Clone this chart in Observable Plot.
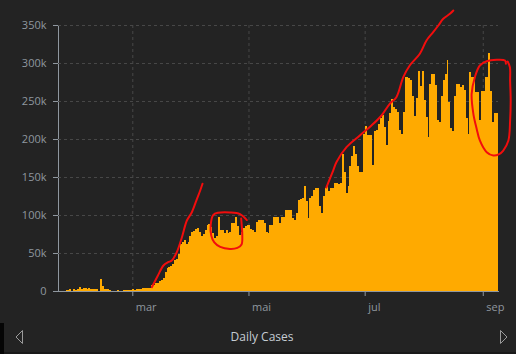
<!DOCTYPE html>
<html>
<head>
<meta charset="utf-8">
<script src="https://cdn.jsdelivr.net/npm/d3@7"></script>
<script src="https://cdn.jsdelivr.net/npm/@observablehq/plot@0.6"></script>
<style>
  html, body { margin: 0; padding: 0; background: #232323; width: 516px; height: 354px; overflow: hidden; }
  #wrap { position: relative; width: 516px; height: 354px; }
  #bar { position: absolute; left: 0; top: 323px; width: 516px; height: 29px; border-bottom: 2px solid #191919; }
  #bar .strip { position: absolute; left: 0; top: 0; width: 4px; height: 31px; background: #050505; }
  #bar .title { position: absolute; left: 0; width: 524px; top: 5px; text-align: center; font: 12px "Open Sans", sans-serif; color: #c5ccd3; }
  #bar svg { position: absolute; top: 0; }
</style>
</head>
<body>
<div id="wrap">
  <div id="chart"></div>
  <div id="bar">
    <div class="strip"></div>
    <div class="title">Daily Cases</div>
    <svg width="10" height="29" style="left:14px"><polygon points="2,14 8.5,7.5 8.5,20.5" fill="none" stroke="#9a9a9a" stroke-width="1"/></svg>
    <svg width="10" height="29" style="left:499px"><polygon points="8,14 1.5,7.5 1.5,20.5" fill="none" stroke="#9a9a9a" stroke-width="1"/></svg>
  </div>
</div>
<script>
// Day 0 = 2020-01-22; one value per day through 2020-09-08
const startDate = "2020-01-22";
const dailyCases = [
  555, 98, 288, 493, 684, 809, 2651, 589, 2068, 1693,
  2111, 4749, 3094, 4011, 3743, 3159, 3597, 2729, 3030, 2612,
  2040, 419, 15141, 6517, 2145, 2194, 2035, 1880, 503, 558,
  624, 1758, 401, 586, 861, 846, 1125, 1369, 1814, 2363,
  1783, 2473, 2205, 2785, 3970, 3878, 4069, 3855, 4573, 7300,
  8000, 10500, 11000, 13500, 15000, 17500, 25000, 30000, 31500, 32500,
  35000, 41000, 42000, 49000, 62000, 64000, 67000, 62000, 64000, 72000,
  77000, 79000, 82000, 83000, 78000, 72000, 75000, 80000, 87000, 88000,
  84000, 76000, 70000, 72000, 97000, 80000, 80000, 76000, 80000, 76000,
  78000, 89000, 89000, 98000, 86000, 74000, 78000, 83000, 85000, 87000,
  87000, 82000, 80000, 78000, 91000, 93000, 93000, 93000, 89000, 78000,
  76000, 87000, 87000, 97000, 97000, 97000, 89000, 98000, 98000, 106000,
  107000, 107000, 106000, 96000, 94000, 102000, 120000, 121000, 122000, 138000,
  118000, 96000, 123000, 125000, 133000, 136000, 136000, 112000, 103000, 125000,
  135000, 138000, 131000, 135000, 135000, 142000, 142000, 141000, 142000, 180000,
  157000, 129000, 138000, 164000, 178000, 191000, 180000, 164000, 157000, 157000,
  207000, 217000, 205000, 205000, 205000, 166000, 210000, 212000, 220000, 227000,
  232000, 216000, 192000, 224000, 234000, 252000, 242000, 239000, 235000, 212000,
  207000, 236000, 282000, 282000, 280000, 277000, 256000, 230000, 254000, 290000,
  270000, 290000, 251000, 229000, 203000, 273000, 286000, 285000, 271000, 225000,
  222000, 256000, 278000, 285000, 304000, 249000, 214000, 211000, 256000, 273000,
  273000, 269000, 271000, 265000, 227000, 207000, 288000, 282000, 282000, 262000,
  262000, 225000, 263000, 263000, 281000, 281000, 313000, 263000, 223000, 234000,
  234000
];
const yTicks = [0, 50000, 100000, 150000, 200000, 250000, 300000, 350000];
const monthTicks = ["2020-03-01", "2020-05-01", "2020-07-01", "2020-09-01"];
const monthLabels = ["mar", "mai", "jul", "sep"];
const domainEnd = "2020-09-09";

// red hand-drawn annotations: [day offset from start, value]
const noteMarch = [[49.0,5700],[52,20000],[55.1,34200],[57.5,38500],[59.5,40800],[62.1,51700],[64.8,71400],[67.4,93400],[70.0,104300],[72.7,122000],[74.4,132900],[75.6,141700]];
const noteApril = [[98.9,94000],[95.3,101900],[90.0,104100],[83.8,103600],[81.2,100600],[79.9,87500],[80.2,73700],[81.8,64500],[84.9,58600],[90.0,56000],[93.9,57300],[96.1,61900],[96.5,73700],[96.2,86900],[95.9,96100]];
const noteJuly = [[140.6,136800],[144.2,159200],[145.9,170100],[151.2,189900],[158.2,205300],[164.3,218400],[169.6,231600],[173.9,247000],[177.4,255700],[181.0,282000],[184.4,297400],[189.7,312800],[193.2,330300],[196.7,341200],[199.4,350000],[202.0,358800],[205.5,365400],[207.3,369700]];
const noteSept = [[234.9,299600],[234.4,304000],[230.0,304900],[224.8,303000],[221.2,297400],[218.6,282000],[216.9,260100],[217.8,233800],[219.5,214500],[221.2,198700],[224.8,183300],[228.3,178900],[231.1,180300],[233.5,185500],[236.2,198700],[237.1,225000],[237.4,251300],[237.1,277600],[237.0,295100],[235.8,302600]];

const t0 = new Date(startDate + "T00:00:00Z");
const dayMs = 86400000;
const dayAt = (d) => new Date(t0.getTime() + d * dayMs);
const rows = dailyCases.map((v, i) => ({x1: dayAt(i), x2: dayAt(i + 1), v}));
const monthDates = monthTicks.map(s => new Date(s + "T00:00:00Z"));
const toPts = (arr) => arr.map(([d, v]) => ({t: dayAt(d), v}));

const red = "#f20d0d";
const noteOpts = {x: "t", y: "v", stroke: red, strokeWidth: 2, curve: "catmull-rom", strokeLinejoin: "round", strokeLinecap: "round"};

const chart = Plot.plot({
  width: 516,
  height: 322,
  marginLeft: 58,
  marginRight: 18,
  marginTop: 25,
  marginBottom: 31,
  style: {background: "transparent", color: "#8f979f", fontFamily: "'Open Sans', sans-serif", fontSize: "11px"},
  x: {type: "utc", domain: [t0, new Date(domainEnd + "T00:00:00Z")], ticks: monthDates, tickFormat: () => "", tickSize: 5, line: true, label: null},
  y: {domain: [0, 350000], ticks: yTicks, tickFormat: d => d === 0 ? "0" : (d / 1000) + "k", tickSize: 5, tickPadding: 7, line: true, label: null},
  marks: [
    Plot.ruleY(yTicks.filter(d => d > 0), {stroke: "#474747", strokeDasharray: "3,3"}),
    Plot.ruleX(monthDates, {stroke: "#474747", strokeDasharray: "3,3"}),
    Plot.rectY(rows, {x1: "x1", x2: "x2", y: "v", fill: "#ffaa00", shapeRendering: "crispEdges"}),
    Plot.text(monthDates, {x: d => d, y: 0, text: (d, i) => monthLabels[i], dy: 16, dx: 3, textAnchor: "start", fill: "#8f979f", fontSize: 11}),
    Plot.line(toPts(noteMarch), noteOpts),
    Plot.line(toPts(noteApril), noteOpts),
    Plot.line(toPts(noteJuly), noteOpts),
    Plot.line(toPts(noteSept), noteOpts)
  ]
});
document.getElementById("chart").appendChild(chart);
</script>
</body>
</html>
